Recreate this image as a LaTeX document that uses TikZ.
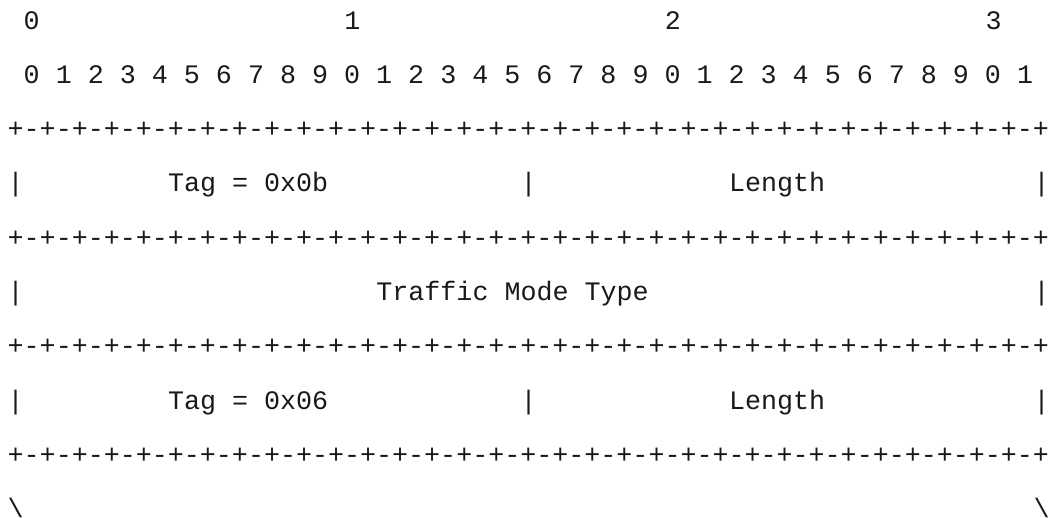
\documentclass[tikz,border=0pt]{standalone}
\usepackage{fontspec}
\setmonofont{Liberation Mono}
\newcommand{\pw}{16.03}
\tikzset{
  ascii/.style={anchor=base west, inner sep=0pt, outer sep=0pt, font=\ttfamily\fontsize{26.7pt}{30pt}\selectfont, text=black!90},
}
\newcommand{\rowy}[1]{29+54.3*#1}
\newcommand{\colx}[1]{7.7+\pw*#1}
\begin{document}
\begin{tikzpicture}[x=1pt,y=-1pt]
\useasboundingbox (0,0) rectangle (1048,517);
% row 0: decade digits
\node[ascii] (d0) at ({\colx{1}},{\rowy{0}}) {0};
\node[ascii] (d1) at ({\colx{21}},{\rowy{0}}) {1};
\node[ascii] (d2) at ({\colx{41}},{\rowy{0}}) {2};
\node[ascii] (d3) at ({\colx{61}},{\rowy{0}}) {3};
% row 1: bit digits
\node[ascii] (bits) at ({\colx{1}},{\rowy{1}}) {0 1 2 3 4 5 6 7 8 9 0 1 2 3 4 5 6 7 8 9 0 1 2 3 4 5 6 7 8 9 0 1};
% ruler lines
\foreach \r/\nm in {2/ruleA,4/ruleB,6/ruleC,8/ruleD}{
  \node[ascii] (\nm) at ({\colx{0}},{\rowy{\r}}) {+-+-+-+-+-+-+-+-+-+-+-+-+-+-+-+-+-+-+-+-+-+-+-+-+-+-+-+-+-+-+-+-+};
}
% row 3
\node[ascii] (l3a) at ({\colx{0}},{\rowy{3}}) {|};
\node[ascii] (tag1) at ({\colx{10}},{\rowy{3}}) {Tag = 0x0b};
\node[ascii] (l3b) at ({\colx{32}},{\rowy{3}}) {|};
\node[ascii] (len1) at ({\colx{45}},{\rowy{3}}) {Length};
\node[ascii] (l3c) at ({\colx{64}},{\rowy{3}}) {|};
% row 5
\node[ascii] (l5a) at ({\colx{0}},{\rowy{5}}) {|};
\node[ascii] (tmt) at ({\colx{23}},{\rowy{5}}) {Traffic Mode Type};
\node[ascii] (l5c) at ({\colx{64}},{\rowy{5}}) {|};
% row 7
\node[ascii] (l7a) at ({\colx{0}},{\rowy{7}}) {|};
\node[ascii] (tag2) at ({\colx{10}},{\rowy{7}}) {Tag = 0x06};
\node[ascii] (l7b) at ({\colx{32}},{\rowy{7}}) {|};
\node[ascii] (len2) at ({\colx{45}},{\rowy{7}}) {Length};
\node[ascii] (l7c) at ({\colx{64}},{\rowy{7}}) {|};
% row 9
\node[ascii] (bs1) at ({\colx{0}},{\rowy{9}}) {\textbackslash};
\node[ascii] (bs2) at ({\colx{64}},{\rowy{9}}) {\textbackslash};
\end{tikzpicture}
\end{document}
